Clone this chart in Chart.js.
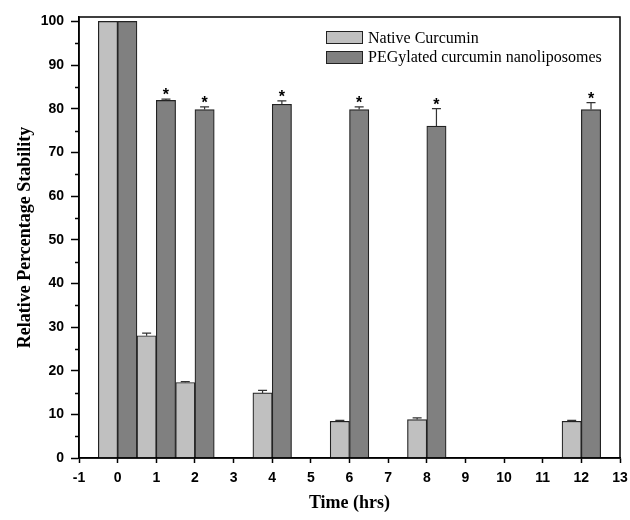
<!DOCTYPE html>
<html>
<head>
<meta charset="utf-8">
<script src="https://cdn.jsdelivr.net/npm/chart.js@4/dist/chart.umd.min.js"></script>
<style>
    body { margin: 0; background: #fff; }
    #wrap { position: relative; width: 630px; height: 520px; }
    #legend { position: absolute; left: 326px; top: 28px; font-family: 'Liberation Serif', 'Times New Roman', serif; font-size: 16px; color: #000; }
    .row { display: flex; align-items: center; height: 19.5px; }
    .box { width: 35px; height: 11px; border: 1.2px solid #222; margin-right: 5px; }
</style>
</head>
<body>
<div id="wrap">
    <canvas id="chart" width="630" height="520"></canvas>
    <div id="legend">
        <div class="row"><span class="box" style="background:#c0c0c0"></span>Native Curcumin</div>
        <div class="row"><span class="box" style="background:#808080"></span>PEGylated curcumin nanoliposomes</div>
    </div>
</div>
<script>
// Time points (hrs)
const timePoints = [0, 1, 2, 4, 6, 8, 12];

// Native curcumin
const nativeValues = [100, 28.0, 17.3, 14.9, 8.4, 8.8, 8.4];
const nativeErrors = [0, 0.6, 0.2, 0.6, 0.2, 0.4, 0.2];

// PEGylated nanoliposomes
const pegValues = [100, 81.9, 79.8, 81.0, 79.8, 76.0, 79.8];
const pegErrors = [0, 0.3, 0.6, 0.8, 0.6, 4.0, 1.6];
const pegSignificant = [false, true, true, true, true, true, true];

const yTickValues = [0, 10, 20, 30, 40, 50, 60, 70, 80, 90, 100];
const minorTicks = [5, 15, 25, 35, 45, 55, 65, 75, 85, 95];

// error bars, asterisks, minor ticks and frame
const extras = {
    id: 'extras',
    afterDatasetsDraw(chart) {
        const ctx = chart.ctx;
        const y = chart.scales.y;
        const errs = [nativeErrors, pegErrors];
        ctx.save();
        ctx.strokeStyle = '#333';
        ctx.lineWidth = 1.2;
        errs.forEach((errList, di) => {
            const meta = chart.getDatasetMeta(di);
            meta.data.forEach((bar, i) => {
                if (!errList[i]) return;
                const val = chart.data.datasets[di].data[i].y;
                const top = y.getPixelForValue(val + errList[i]);
                ctx.beginPath();
                ctx.moveTo(bar.x, bar.y);
                ctx.lineTo(bar.x, top);
                ctx.moveTo(bar.x - 4.5, top);
                ctx.lineTo(bar.x + 4.5, top);
                ctx.stroke();
            });
        });
        // asterisks
        const pegMeta = chart.getDatasetMeta(1);
        ctx.fillStyle = '#000';
        ctx.font = 'bold 16px "Liberation Sans", Arial, sans-serif';
        ctx.textAlign = 'center';
        ctx.textBaseline = 'alphabetic';
        pegMeta.data.forEach((bar, i) => {
            if (!pegSignificant[i]) return;
            const top = y.getPixelForValue(pegValues[i] + pegErrors[i]);
            ctx.fillText('*', bar.x, top + 1);
        });
        ctx.restore();
    },
    afterDraw(chart) {
        const ctx = chart.ctx;
        const a = chart.chartArea;
        const y = chart.scales.y;
        ctx.save();
        ctx.strokeStyle = '#000';
        ctx.lineWidth = 1.5;
        ctx.beginPath();
        minorTicks.forEach(v => {
            const py = Math.round(y.getPixelForValue(v)) + 0.5;
            ctx.moveTo(a.left - 4, py);
            ctx.lineTo(a.left, py);
        });
        ctx.stroke();
        ctx.strokeRect(a.left, a.top, a.right - a.left, a.bottom - a.top);
        ctx.restore();
    }
};

const ctx = document.getElementById('chart').getContext('2d');
new Chart(ctx, {
    type: 'bar',
    data: {
        datasets: [
            {
                label: 'Native Curcumin',
                data: timePoints.map((t, i) => ({ x: t, y: nativeValues[i] })),
                backgroundColor: '#c0c0c0',
                borderColor: '#222',
                borderWidth: 1.2
            },
            {
                label: 'PEGylated curcumin nanoliposomes',
                data: timePoints.map((t, i) => ({ x: t, y: pegValues[i] })),
                backgroundColor: '#808080',
                borderColor: '#222',
                borderWidth: 1.2
            }
        ]
    },
    options: {
        responsive: false,
        animation: false,
        categoryPercentage: 1,
        barPercentage: 1,
        layout: { padding: { top: 17, right: 10, left: 0, bottom: 0 } },
        plugins: {
            legend: { display: false },
            tooltip: { enabled: false }
        },
        scales: {
            x: {
                type: 'linear',
                min: -1,
                max: 13,
                offset: false,
                grid: { display: true, drawOnChartArea: false, offset: false, tickLength: 5, tickColor: '#000', tickWidth: 1.5 },
                border: { display: true, color: '#000', width: 1.5 },
                ticks: {
                    stepSize: 1,
                    padding: 7,
                    color: '#000',
                    maxRotation: 0,
                    autoSkip: false,
                    font: { family: "'Liberation Sans', Arial, sans-serif", size: 14, weight: 'bold' }
                },
                title: {
                    display: true,
                    text: 'Time (hrs)',
                    color: '#000',
                    padding: { top: 0, bottom: 6 },
                    font: { family: "'Liberation Serif', 'Times New Roman', serif", size: 18, weight: 'bold' }
                },
                afterFit(scale) {
                    scale.height = 62;
                    scale.paddingLeft = 0;
                    scale.paddingRight = 0;
                }
            },
            y: {
                min: 0,
                max: 101,
                grid: { display: true, drawOnChartArea: false, tickLength: 8, tickColor: '#000', tickWidth: 1.5 },
                border: { display: true, color: '#000', width: 1.5 },
                ticks: {
                    padding: 7,
                    color: '#000',
                    font: { family: "'Liberation Sans', Arial, sans-serif", size: 14, weight: 'bold' }
                },
                afterBuildTicks(scale) {
                    scale.ticks = yTickValues.map(v => ({ value: v }));
                },
                title: {
                    display: true,
                    text: 'Relative Percentage Stability',
                    color: '#000',
                    padding: { top: 15, bottom: 0 },
                    font: { family: "'Liberation Serif', 'Times New Roman', serif", size: 18, weight: 'bold' }
                },
                afterFit(scale) {
                    scale.width = 79;
                    scale.paddingTop = 0;
                    scale.paddingBottom = 0;
                }
            }
        }
    },
    plugins: [extras]
});
</script>
</body>
</html>
